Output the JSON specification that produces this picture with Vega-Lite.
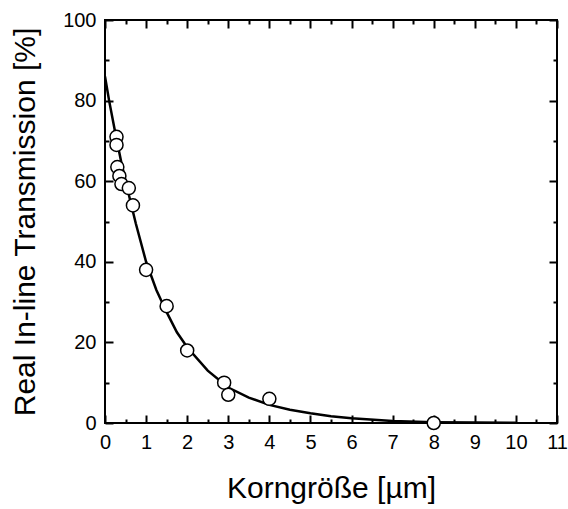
{
  "$schema": "https://vega.github.io/schema/vega-lite/v6.json",
  "width": 452,
  "height": 403,
  "autosize": "none",
  "padding": {"left": 105, "top": 20, "right": 11, "bottom": 86},
  "background": "white",
  "config": {
    "font": "Liberation Sans",
    "view": {"stroke": "black", "strokeWidth": 2},
    "axis": {
      "grid": false,
      "domain": false,
      "tickColor": "black",
      "tickWidth": 2,
      "labelFont": "Liberation Sans",
      "labelFontSize": 20,
      "labelColor": "black",
      "labelFlush": false,
      "labelOverlap": false,
      "labelBound": false,
      "titleFont": "Liberation Sans",
      "titleFontSize": 30,
      "titleFontWeight": "normal",
      "titleColor": "black"
    }
  },
  "datasets": {
    "curve": [
      {"x": 0, "y": 86}, {"x": 0.1, "y": 80}, {"x": 0.25, "y": 72}, {"x": 0.4, "y": 64.5},
      {"x": 0.5, "y": 60}, {"x": 0.75, "y": 49.5}, {"x": 1, "y": 40}, {"x": 1.25, "y": 33},
      {"x": 1.5, "y": 27.5}, {"x": 1.75, "y": 22.5}, {"x": 2, "y": 18.8}, {"x": 2.5, "y": 13},
      {"x": 3, "y": 8.8}, {"x": 3.5, "y": 6.3}, {"x": 4, "y": 4.5}, {"x": 4.5, "y": 3.3},
      {"x": 5, "y": 2.4}, {"x": 5.5, "y": 1.7}, {"x": 6, "y": 1.2}, {"x": 7, "y": 0.5},
      {"x": 8, "y": 0.2}, {"x": 9, "y": 0.1}, {"x": 10, "y": 0.04}
    ],
    "points": [
      {"x": 0.28, "y": 71}, {"x": 0.28, "y": 69}, {"x": 0.3, "y": 63.5}, {"x": 0.35, "y": 61.3},
      {"x": 0.4, "y": 59.3}, {"x": 0.58, "y": 58.3}, {"x": 0.68, "y": 54}, {"x": 1.0, "y": 38},
      {"x": 1.5, "y": 29}, {"x": 2.0, "y": 18}, {"x": 2.9, "y": 10}, {"x": 3.0, "y": 7},
      {"x": 4.0, "y": 6}, {"x": 8.0, "y": 0}
    ]
  },
  "layer": [
    {
      "data": {"name": "curve"},
      "mark": {"type": "line", "color": "black", "strokeWidth": 2.5, "clip": true},
      "encoding": {
        "x": {
          "field": "x", "type": "quantitative",
          "scale": {"domain": [0, 11], "nice": false},
          "axis": {
            "orient": "bottom",
            "title": "Korngröße [µm]",
            "titlePadding": 17,
            "values": [0,0.5,1,1.5,2,2.5,3,3.5,4,4.5,5,5.5,6,6.5,7,7.5,8,8.5,9,9.5,10,10.5,11],
            "tickSize": {"condition": {"test": "datum.value % 1 === 0", "value": -8}, "value": -4},
            "labelPadding": 17,
            "labelExpr": "datum.value % 1 === 0 ? format(datum.value, 'd') : ''"
          }
        },
        "y": {
          "field": "y", "type": "quantitative",
          "scale": {"domain": [0, 100], "nice": false},
          "axis": {
            "orient": "left",
            "title": "Real In-line Transmission [%]",
            "titlePadding": 22,
            "values": [0,10,20,30,40,50,60,70,80,90,100],
            "tickSize": {"condition": {"test": "datum.value % 20 === 0", "value": -8}, "value": -4},
            "labelPadding": 17,
            "labelExpr": "datum.value % 20 === 0 ? format(datum.value, 'd') : ''"
          }
        }
      }
    },
    {
      "data": {"name": "points"},
      "mark": {"type": "point", "shape": "circle", "filled": true, "fill": "white", "stroke": "black", "strokeWidth": 1.5, "size": 170, "opacity": 1},
      "encoding": {
        "x": {
          "field": "x", "type": "quantitative",
          "scale": {"domain": [0, 11], "nice": false},
          "axis": {
            "orient": "top",
            "title": null,
            "labels": false,
            "values": [0,0.5,1,1.5,2,2.5,3,3.5,4,4.5,5,5.5,6,6.5,7,7.5,8,8.5,9,9.5,10,10.5,11],
            "tickSize": {"condition": {"test": "datum.value % 1 === 0", "value": -8}, "value": -4}
          }
        },
        "y": {
          "field": "y", "type": "quantitative",
          "scale": {"domain": [0, 100], "nice": false},
          "axis": {
            "orient": "right",
            "title": null,
            "labels": false,
            "values": [0,10,20,30,40,50,60,70,80,90,100],
            "tickSize": {"condition": {"test": "datum.value % 20 === 0", "value": -8}, "value": -4}
          }
        }
      }
    }
  ],
  "resolve": {"axis": {"x": "independent", "y": "independent"}}
}
